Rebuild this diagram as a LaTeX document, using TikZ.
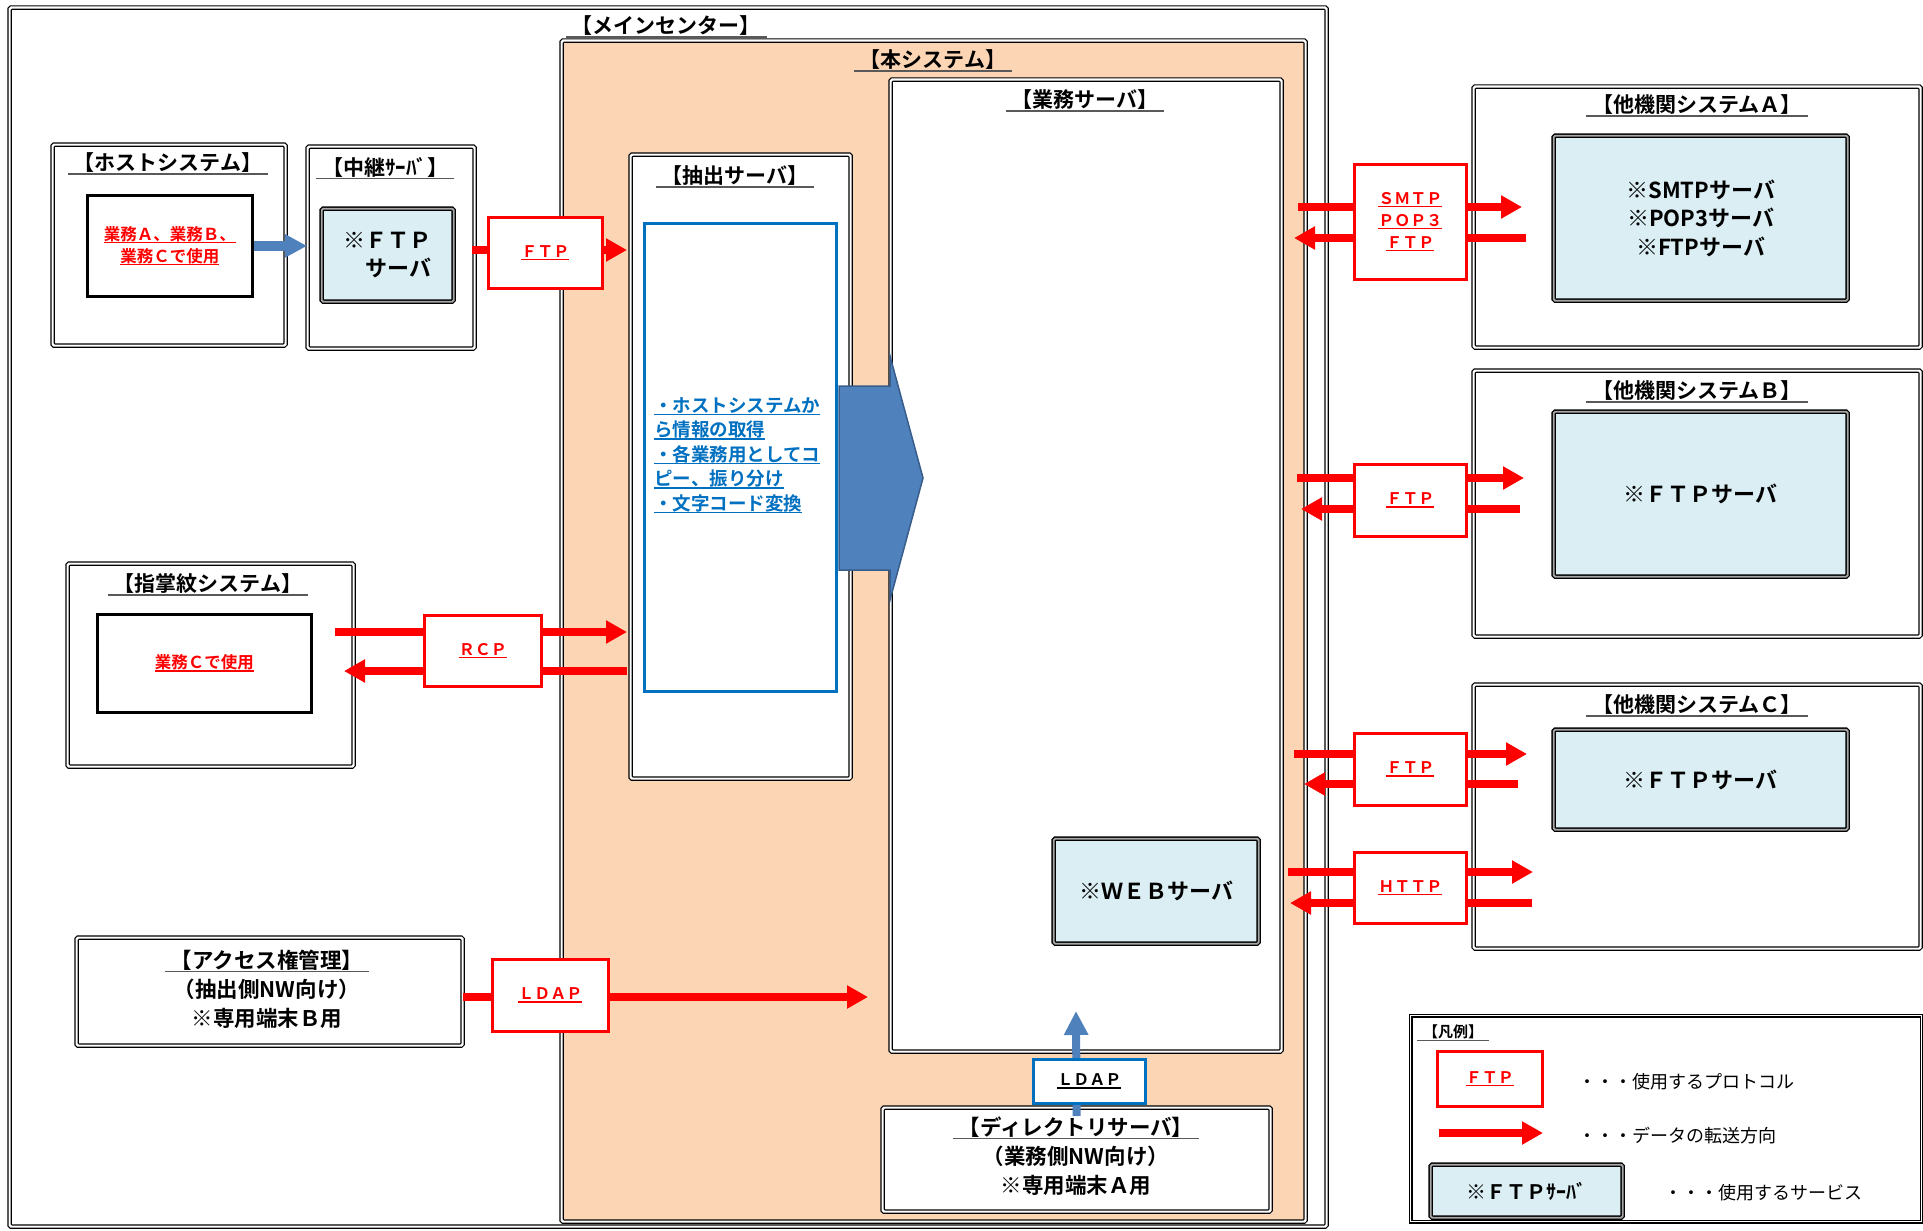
\documentclass[tikz,border=0pt]{standalone}
\usepackage{fontspec}
\setmainfont{Noto Sans CJK JP}[BoldFont={Noto Sans CJK JP Bold}]
\usetikzlibrary{arrows.meta}
\definecolor{peach}{HTML}{FCD5B5}
\definecolor{lblue}{HTML}{DAEEF3}
\definecolor{xblue}{HTML}{0070C0}
\definecolor{arrblue}{HTML}{4F81BD}
\definecolor{arrbluedk}{HTML}{385D8A}
\definecolor{xred}{HTML}{FF0000}
\newcommand\fs[2]{\fontsize{#1}{#2}\selectfont}
\newcommand\myul[1]{\leavevmode\setbox0\hbox{#1}\rlap{\rule[-3pt]{\wd0}{1.5pt}}\box0}
\newcommand\hul[1]{\leavevmode\setbox0\hbox{#1}\rlap{\kern-6pt{\color{black!65}\rule[-4pt]{\dimexpr\wd0+12pt\relax}{1.5pt}}}\box0}
\newcommand\bx[7]{\node[#1, minimum width=#5-#3, minimum height=#6-#4] (#2) at (#3,#4) {#7};}
\tikzset{
  boxbase/.style={inner sep=0pt, anchor=north west, align=center},
  dbl/.style={boxbase, draw=black, double=white, line width=1.2pt, double distance=2.2pt, rounded corners=1.5pt, fill=white},
  svc/.style={boxbase, draw=black, double=black!35, line width=1.3pt, double distance=1.8pt, rounded corners=1.5pt, fill=lblue, font=\bfseries\fs{22}{28}},
  inbox/.style={boxbase, draw=black, line width=2.8pt, fill=white, text=xred, font=\bfseries\fs{16.5}{22}},
  proto/.style={boxbase, draw=xred, line width=2.8pt, fill=white, text=xred, font=\bfseries\fs{16}{22}},
  bproto/.style={boxbase, draw=xblue, line width=2.8pt, fill=white, text=black, font=\bfseries\fs{16}{22}},
  bluebox/.style={boxbase, draw=xblue, line width=2.8pt, fill=white},
  legbox/.style={boxbase, draw=black, double=white, line width=1.3pt, double distance=1.5pt, fill=white},
  hdr/.style={font=\bfseries\fs{21}{25}, inner sep=0pt},
  blk/.style={font=\bfseries\fs{21.5}{29}, inner sep=0pt, align=center},
  btext/.style={font=\bfseries\fs{18.5}{24.5}, text=xblue, inner sep=0pt, align=left, anchor=north west},
  legtxt/.style={font=\fs{18}{22}, inner sep=0pt, anchor=west},
  rarr/.style={draw=xred, line width=8pt, -{Triangle[length=21pt,width=22pt]}},
  barr/.style={draw=arrblue, line width=10pt, -{Triangle[length=22pt,width=22pt]}},
  barr2/.style={draw=arrblue, line width=8pt, -{Triangle[length=24pt,width=23pt]}},
  bigarr/.style={fill=arrblue, draw=arrbluedk, line width=1.5pt}
}
\begin{document}
\begin{tikzpicture}[x=1pt,y=-1pt]
\useasboundingbox (0,0) rectangle (1923,1231);
\fill[white] (0,0) rectangle (1923,1231);

% ---- main center
\bx{dbl}{main}{9}{7}{1326}{1226}{}
\node[hdr] (mainlbl) at (666,27) {\hul{【メインセンター】}};
\bx{dbl,fill=peach}{honsys}{561}{40}{1305}{1221}{}
\node[hdr] (honlbl) at (933,61) {\hul{【本システム】}};
\bx{dbl}{gyomu}{890}{79}{1281}{1051}{}
\node[hdr] (gyomulbl) at (1085,101) {\hul{【業務サーバ】}};
\bx{dbl}{chu}{630}{154}{850}{778}{}
\node[hdr] (chulbl) at (735,177) {\hul{【抽出サーバ】}};
\bx{bluebox}{btbox}{643}{222}{835}{690}{}
\node[btext] (btxt) at (654,397) {\myul{・ホストシステムか}\\\myul{ら情報の取得}\\\myul{・各業務用としてコ}\\\myul{ピー、振り分け}\\\myul{・文字コード変換}};
\path[bigarr] (839,386) -- (890,386) -- (890,356) -- (923,478) -- (890,600) -- (890,570) -- (839,570) -- cycle;
\bx{svc}{web}{1053}{838}{1258}{943}{※ＷＥＢサーバ}
\bx{dbl}{dir}{882}{1107}{1270}{1211}{}
\node[blk] (dirtxt) at (1076,1156) {\hul{【ディレクトリサーバ】}\\（業務側NW向け）\\※専用端末Ａ用};
\coordinate (ldtip) at (1076,1011);
\draw[barr2] ([yshift=-9pt]dir.north) -- (ldtip);
\bx{bproto}{ldap2}{1032}{1058}{1144}{1102}{\myul{ＬＤＡＰ}}

% ---- host system
\bx{dbl}{host}{52}{144}{285}{345}{}
\node[hdr] (hostlbl) at (168,164) {\hul{【ホストシステム】}};
\bx{inbox}{hostin}{86}{194}{251}{295}{\myul{業務Ａ、業務Ｂ、}\\\myul{業務Ｃで使用}}
\bx{dbl}{relay}{307}{146}{474}{348}{}
\node[hdr] (relaylbl) at (385,168) {\hul{【中継ｻｰﾊﾞ】}};
\bx{svc,align=left}{relayin}{321}{208}{453}{301}{※ＦＴＰ\\　サーバ}
\draw[barr] (hostin.east) -- (hostin.east -| relay.west);
\coordinate (ftpa) at (472,250);
\coordinate (ftpb) at (627,250);
\draw[rarr] (ftpa) -- (ftpb);
\bx{proto}{ftp1}{487}{216}{601}{287}{\myul{ＦＴＰ}}

% ---- shimon
\bx{dbl}{shimon}{67}{563}{353}{766}{}
\node[hdr] (shimonlbl) at (208,585) {\hul{【指掌紋システム】}};
\bx{inbox}{shimonin}{96}{613}{310}{711}{\myul{業務Ｃで使用}}
\coordinate (rcpa) at (335,632);
\coordinate (rcpb) at (627,632);
\coordinate (rcpc) at (627,671);
\coordinate (rcpd) at (344,671);
\draw[rarr] (rcpa) -- (rcpb);
\draw[rarr] (rcpc) -- (rcpd);
\bx{proto}{rcp}{423}{614}{540}{685}{\myul{ＲＣＰ}}

% ---- access
\bx{dbl}{access}{76}{937}{462}{1045}{}
\node[blk] (acctxt) at (267,989) {\hul{【アクセス権管理】}\\（抽出側NW向け）\\※専用端末Ｂ用};
\coordinate (ldapb) at (868,997);
\draw[rarr] (access.east |- ldapb) -- (ldapb);
\bx{proto}{ldap1}{491}{958}{607}{1030}{\myul{ＬＤＡＰ}}

% ---- other system A
\bx{dbl}{sysA}{1473}{86}{1920}{347}{}
\node[hdr] (sysAlbl) at (1697,106) {\hul{【他機関システムＡ】}};
\bx{svc,font=\bfseries\fs{22}{28.5}}{sysAin}{1553}{135}{1847}{300}{※SMTPサーバ\\※POP3サーバ\\※FTPサーバ}
\coordinate (a1) at (1298,207); \coordinate (a2) at (1522,207);
\coordinate (a3) at (1526,238); \coordinate (a4) at (1294,238);
\draw[rarr] (a1) -- (a2);
\draw[rarr] (a3) -- (a4);
\bx{proto}{protoA}{1353}{163}{1465}{278}{\myul{ＳＭＴＰ}\\\myul{ＰＯＰ３}\\\myul{ＦＴＰ}}

% ---- other system B
\bx{dbl}{sysB}{1473}{370}{1920}{636}{}
\node[hdr] (sysBlbl) at (1697,392) {\hul{【他機関システムＢ】}};
\bx{svc}{sysBin}{1553}{411}{1847}{576}{※ＦＴＰサーバ}
\coordinate (b1) at (1297,478); \coordinate (b2) at (1524,478);
\coordinate (b3) at (1520,509); \coordinate (b4) at (1301,509);
\draw[rarr] (b1) -- (b2);
\draw[rarr] (b3) -- (b4);
\bx{proto}{protoB}{1353}{463}{1465}{535}{\myul{ＦＴＰ}}

% ---- other system C
\bx{dbl}{sysC}{1473}{684}{1920}{948}{}
\node[hdr] (sysClbl) at (1697,706) {\hul{【他機関システムＣ】}};
\bx{svc}{sysCin}{1553}{729}{1847}{829}{※ＦＴＰサーバ}
\coordinate (c1) at (1294,754); \coordinate (c2) at (1527,754);
\coordinate (c3) at (1518,784); \coordinate (c4) at (1304,784);
\draw[rarr] (c1) -- (c2);
\draw[rarr] (c3) -- (c4);
\bx{proto}{protoC}{1353}{732}{1465}{804}{\myul{ＦＴＰ}}
\coordinate (h1) at (1288,872); \coordinate (h2) at (1533,872);
\coordinate (h3) at (1532,903); \coordinate (h4) at (1290,903);
\draw[rarr] (h1) -- (h2);
\draw[rarr] (h3) -- (h4);
\bx{proto}{http}{1353}{851}{1465}{922}{\myul{ＨＴＴＰ}}

% ---- legend
\bx{legbox}{legend}{1410}{1015}{1921}{1221}{}
\node[font=\bfseries\fs{15}{18}, inner sep=0pt] (leglbl) at (1453,1033) {\hul{【凡例】}};
\bx{proto}{legftp}{1436}{1050}{1541}{1105}{\myul{ＦＴＰ}}
\node[legtxt] (leg1) at (1578,1082) {・・・使用するプロトコル};
\coordinate (lga) at (1439,1133); \coordinate (lgb) at (1543,1133);
\draw[rarr] (lga) -- (lgb);
\node[legtxt] (leg2) at (1578,1136) {・・・データの転送方向};
\bx{svc,font=\bfseries\fs{20}{24}}{legsvc}{1430}{1164}{1622}{1217}{※ＦＴＰｻｰﾊﾞ}
\node[legtxt] (leg3) at (1664,1193) {・・・使用するサービス};
\end{tikzpicture}
\end{document}
